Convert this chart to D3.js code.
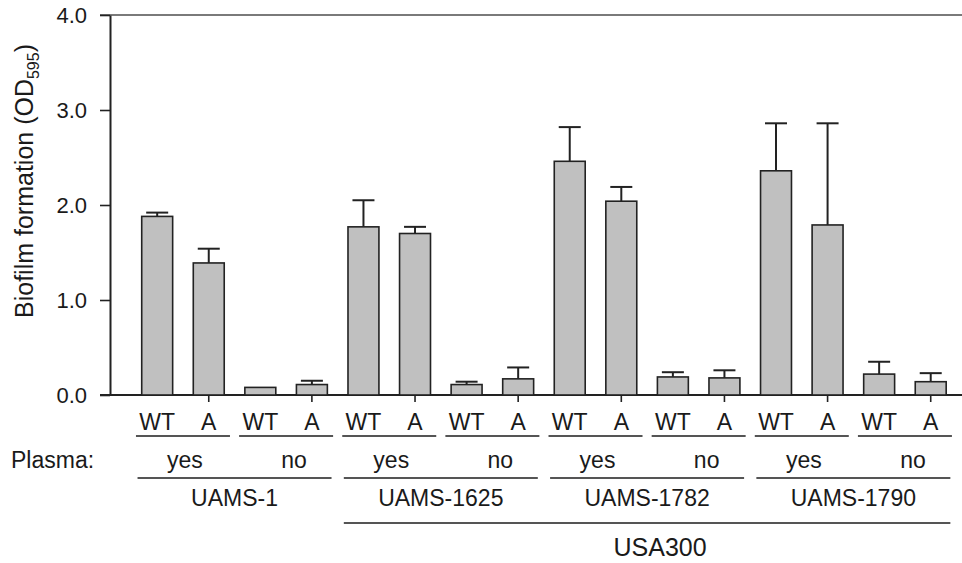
<!DOCTYPE html>
<html>
<head>
<meta charset="utf-8">
<script src="https://cdn.jsdelivr.net/npm/d3@7"></script>
<style>
  body { margin: 0; background: #fff; }
  text { font-family: "Liberation Sans", Arial, sans-serif; fill: #1a1a1a; }
</style>
</head>
<body>
<svg id="chart" width="962" height="563"></svg>
<script>
// data
const strains = ["UAMS-1", "UAMS-1625", "UAMS-1782", "UAMS-1790"]
const plasma = ["yes", "no"]
const genotypes = ["WT", "A"]
const means = [1.88, 1.39, 0.08, 0.11, 1.77, 1.70, 0.11, 0.17, 2.46, 2.04, 0.19, 0.18, 2.36, 1.79, 0.22, 0.14]
const errors = [0.04, 0.15, 0.00, 0.04, 0.28, 0.07, 0.03, 0.12, 0.36, 0.15, 0.05, 0.08, 0.50, 1.07, 0.13, 0.09]
const yTicks = [0, 1, 2, 3, 4]
const cladeName = "USA300"
const cladeStrains = ["UAMS-1625", "UAMS-1782", "UAMS-1790"]

// build rows
const rows = []
strains.forEach(s => plasma.forEach(p => genotypes.forEach(g => {
    const i = rows.length
    rows.push({ key: s + "|" + p + "|" + g, strain: s, plasma: p, geno: g, mean: means[i], err: errors[i] })
})))

const svg = d3.select("#chart")
const W = 962
const axisX = 110
const labelSize = 23

const x = d3.scaleBand()
    .domain(rows.map(d => d.key))
    .range([131.4, 956.5])
    .paddingInner(0.4)
    .paddingOuter(0.2)

const y = d3.scaleLinear().domain([0, 4]).range([395, 15])

const cx = k => x(k) + x.bandwidth() / 2

////////////////// frame lines
svg.append("line")
    .attr("x1", axisX - 10).attr("x2", W)
    .attr("y1", y(4)).attr("y2", y(4))
    .attr("stroke", "#7a7a7a").attr("stroke-width", 2)

svg.append("line")
    .attr("x1", axisX - 10).attr("x2", W)
    .attr("y1", y(0)).attr("y2", y(0))
    .attr("stroke", "#222").attr("stroke-width", 2)

////////////////// bars + error bars
const bars = svg.append("g")

bars.selectAll("line.err")
    .data(rows.filter(d => d.err > 0))
    .join("line")
    .attr("class", "err")
    .attr("x1", d => cx(d.key)).attr("x2", d => cx(d.key))
    .attr("y1", d => y(d.mean)).attr("y2", d => y(d.mean + d.err))
    .attr("stroke", "#222").attr("stroke-width", 2)

bars.selectAll("line.cap")
    .data(rows.filter(d => d.err > 0))
    .join("line")
    .attr("class", "cap")
    .attr("x1", d => cx(d.key) - 11).attr("x2", d => cx(d.key) + 11)
    .attr("y1", d => y(d.mean + d.err)).attr("y2", d => y(d.mean + d.err))
    .attr("stroke", "#222").attr("stroke-width", 2)

bars.selectAll("rect")
    .data(rows)
    .join("rect")
    .attr("x", d => x(d.key))
    .attr("y", d => y(d.mean))
    .attr("width", x.bandwidth())
    .attr("height", d => y(0) - y(d.mean))
    .attr("fill", "#c0c0c0")
    .attr("stroke", "#222")
    .attr("stroke-width", 1.6)

////////////////// axes
const yAxis = svg.append("g")
    .attr("transform", `translate(${axisX},0)`)
    .call(d3.axisLeft(y).tickValues(yTicks).tickFormat(d3.format(".1f")).tickSize(10).tickSizeOuter(0).tickPadding(13))
yAxis.select(".domain").attr("stroke", "#222").attr("stroke-width", 2)
yAxis.selectAll(".tick line").attr("stroke", "#222").attr("stroke-width", 1.6)
yAxis.selectAll(".tick text").attr("font-size", 22).attr("font-family", "Liberation Sans, Arial, sans-serif").attr("fill", "#1a1a1a")

const xAxis = svg.append("g")
    .attr("transform", `translate(0,${y(0)})`)
    .call(d3.axisBottom(x).tickValues(rows.filter(d => d.geno === "A").map(d => d.key)).tickSize(7).tickFormat(""))
xAxis.select(".domain").remove()
xAxis.selectAll(".tick line").attr("stroke", "#222").attr("stroke-width", 1.6)

// y title
const yTitle = svg.append("text")
    .attr("transform", "translate(33,181) rotate(-90)")
    .attr("text-anchor", "middle")
    .attr("font-size", 25)
yTitle.append("tspan").text("Biofilm formation (OD")
yTitle.append("tspan").attr("font-size", 16).attr("dy", 6).text("595")
yTitle.append("tspan").attr("dy", -6).text(")")

////////////////// category labels under the axis
const lab = svg.append("g").attr("font-size", labelSize)

lab.selectAll("text.geno")
    .data(rows)
    .join("text")
    .attr("class", "geno")
    .attr("x", d => cx(d.key))
    .attr("y", 430)
    .attr("text-anchor", "middle")
    .attr("font-size", labelSize)
    .text(d => d.geno)

// pairs (strain x plasma)
const pairs = d3.cross(strains, plasma).map(([s, p]) => {
    const ks = rows.filter(d => d.strain === s && d.plasma === p).map(d => cx(d.key))
    return { strain: s, plasma: p, mid: d3.mean(ks) }
})

lab.selectAll("line.pair")
    .data(pairs)
    .join("line")
    .attr("class", "pair")
    .attr("x1", d => d.mid - 47).attr("x2", d => d.mid + 47)
    .attr("y1", 436).attr("y2", 436)
    .attr("stroke", "#555").attr("stroke-width", 2)

lab.append("text")
    .attr("x", 11).attr("y", 468)
    .attr("font-size", labelSize)
    .text("Plasma:")

lab.selectAll("text.plasma")
    .data(pairs)
    .join("text")
    .attr("class", "plasma")
    .attr("x", d => d.mid + (d.plasma === "no" ? 8 : 2))
    .attr("y", 468)
    .attr("text-anchor", "middle")
    .attr("font-size", labelSize)
    .text(d => d.plasma)

// strains
const groups = strains.map(s => {
    const ks = rows.filter(d => d.strain === s).map(d => cx(d.key))
    return { strain: s, mid: d3.mean(ks) }
})

lab.selectAll("line.strain")
    .data(groups)
    .join("line")
    .attr("class", "strain")
    .attr("x1", d => d.mid - 97).attr("x2", d => d.mid + 97)
    .attr("y1", 478).attr("y2", 478)
    .attr("stroke", "#555").attr("stroke-width", 2)

lab.selectAll("text.strain")
    .data(groups)
    .join("text")
    .attr("class", "strain")
    .attr("x", d => d.mid)
    .attr("y", 506)
    .attr("text-anchor", "middle")
    .attr("font-size", labelSize)
    .text(d => d.strain)

// clade bracket
const clade = groups.filter(g => cladeStrains.includes(g.strain))
const cLeft = d3.min(clade, d => d.mid) - 97
const cRight = d3.max(clade, d => d.mid) + 97

lab.append("line")
    .attr("x1", cLeft).attr("x2", cRight)
    .attr("y1", 523).attr("y2", 523)
    .attr("stroke", "#555").attr("stroke-width", 2)

lab.append("text")
    .attr("x", (cLeft + cRight) / 2 + 13)
    .attr("y", 556)
    .attr("text-anchor", "middle")
    .attr("font-size", 25)
    .text(cladeName)
</script>
</body>
</html>
